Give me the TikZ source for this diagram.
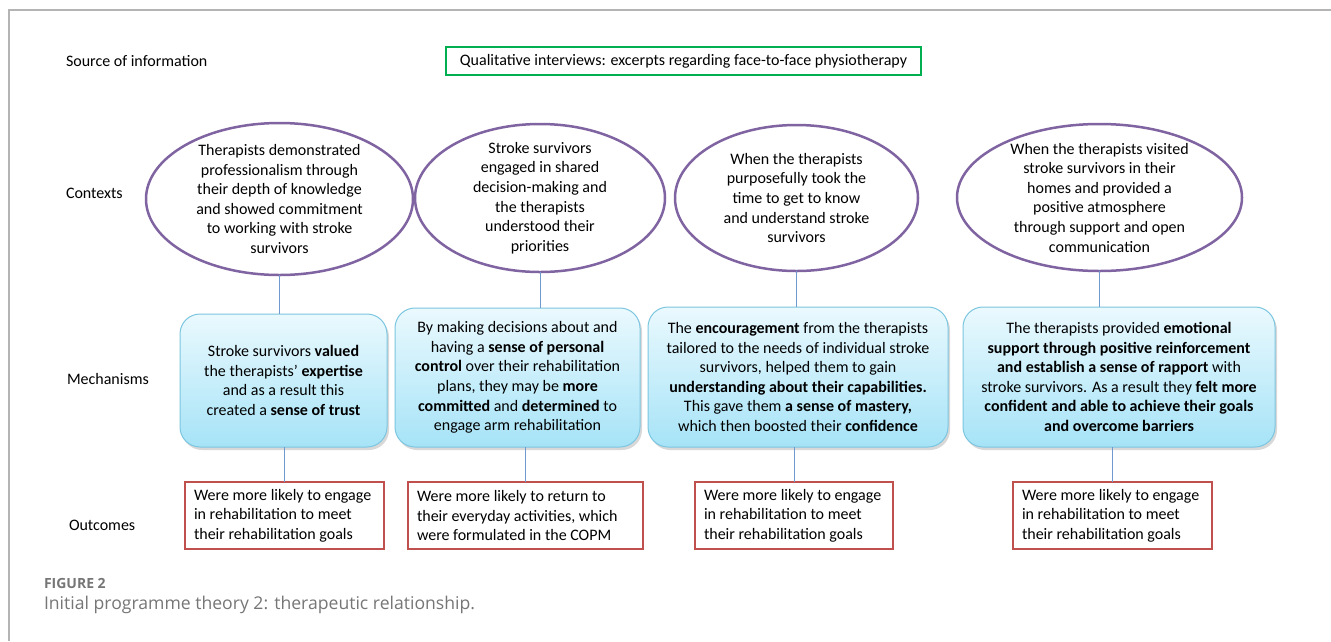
\documentclass[tikz,border=0pt]{standalone}
\usepackage{fontspec}
\setmainfont{Carlito}
\newfontfamily\capfont{Open Sans}
\usetikzlibrary{shapes.geometric,shadows}
\definecolor{ctxpurple}{HTML}{8064A2}
\definecolor{srcgreen}{HTML}{00B050}
\definecolor{outred}{HTML}{C0504D}
\definecolor{connblue}{HTML}{6F9AD0}
\definecolor{mechborder}{HTML}{7CC6E0}
\definecolor{mechtop}{HTML}{EAF9FE}
\definecolor{mechbot}{HTML}{A6E3F7}
\definecolor{framegray}{HTML}{B4B4B4}
\definecolor{capgray}{HTML}{767676}
\begin{document}
\begin{tikzpicture}[x=1pt,y=-1pt,
  every node/.style={inner sep=0pt, outer sep=0pt},
  txt/.style={font=\fontsize{16}{19.6}\selectfont, text=black},
  rowlabel/.style={txt, anchor=west},
  ctx/.style={ellipse, draw=ctxpurple, line width=2.5pt},
  ctxtext/.style={txt, align=center},
  mech/.style={txt, rectangle, rounded corners=20pt, draw=mechborder, line width=1pt,
    top color=mechtop, bottom color=mechbot, align=center,
    drop shadow={shadow xshift=2pt, shadow yshift=-3pt, opacity=0.25, fill=black!60}},
  outc/.style={rectangle, draw=outred, line width=2pt, minimum height=67pt},
  outtext/.style={txt, align=left, anchor=west},
  conn/.style={draw=connblue, line width=1pt}
]
\useasboundingbox (0,0) rectangle (1331,641);
\fill[white] (0,0) rectangle (1331,641);
\draw[framegray, line width=1.5pt] (1331,10) -- (9,10) -- (9,641);

% row labels
\node[rowlabel] (lsrc) at (66,61) {Source of information};
\node[rowlabel] (lctx) at (66,193) {Contexts};
\node[rowlabel] (lmech) at (67,379) {Mechanisms};
\node[rowlabel] (lout) at (69,525) {Outcomes};

% source
\node[txt, draw=srcgreen, line width=1.5pt, minimum width=475pt, minimum height=28pt]
  (src) at (683.5,61) {Qualitative interviews: excerpts regarding face-to-face physiotherapy};

% contexts
\node[ctx, minimum width=267pt, minimum height=152pt] (c1) at (279.5,199) {};
\node[ctxtext] (c1t) at (c1) {Therapists demonstrated\\professionalism through\\their depth of knowledge\\and showed commitment\\to working with stroke\\survivors};
\node[ctx, minimum width=250pt, minimum height=148pt] (c2) at (540,198) {};
\node[ctxtext] (c2t) at (c2) {Stroke survivors\\engaged in shared\\decision-making and\\the therapists\\understood their\\priorities};
\node[ctx, minimum width=243pt, minimum height=146pt] (c3) at (796.5,198) {};
\node[ctxtext] (c3t) at (c3) {When the therapists\\purposefully took the\\time to get to know\\and understand stroke\\survivors};
\node[ctx, minimum width=285pt, minimum height=147pt] (c4) at (1099.5,197.5) {};
\node[ctxtext] (c4t) at (c4) {When the therapists visited\\stroke survivors in their\\homes and provided a\\positive atmosphere\\through support and open\\communication};

% mechanisms
\node[mech, minimum width=207pt, minimum height=133pt] (m1) at (283.5,380.5)
  {Stroke survivors \textbf{valued}\\the therapists’ \textbf{expertise}\\and as a result this\\created a \textbf{sense of trust}};
\node[mech, minimum width=245pt, minimum height=139pt] (m2) at (517.5,377.5)
  {By making decisions about and\\having a \textbf{sense of personal}\\\textbf{control} over their rehabilitation\\plans, they may be \textbf{more}\\\textbf{committed} and \textbf{determined} to\\engage arm rehabilitation};
\node[mech, minimum width=300pt, minimum height=140pt] (m3) at (798,377)
  {The \textbf{encouragement} from the therapists\\tailored to the needs of individual stroke\\survivors, helped them to gain\\\textbf{understanding about their capabilities.}\\This gave them \textbf{a sense of mastery,}\\which then boosted their \textbf{confidence}};
\node[mech, minimum width=312pt, minimum height=140pt] (m4) at (1119,377)
  {The therapists provided \textbf{emotional}\\\textbf{support through positive reinforcement}\\\textbf{and establish a sense of rapport} with\\stroke survivors. As a result they \textbf{felt more}\\\textbf{confident and able to achieve their goals}\\\textbf{and overcome barriers}};

% outcomes
\node[outc, minimum width=199pt] (o1) at (284.5,515.5) {};
\node[outtext] (o1t) at ([xshift=9pt]o1.west)
  {Were more likely to engage\\in rehabilitation to meet\\their rehabilitation goals};
\node[outc, minimum width=235pt] (o2) at (525.5,515.5) {};
\node[outtext] (o2t) at ([xshift=9pt]o2.west)
  {Were more likely to return to\\their everyday activities, which\\were formulated in the COPM};
\node[outc, minimum width=198pt] (o3) at (794,515.5) {};
\node[outtext] (o3t) at ([xshift=9pt]o3.west)
  {Were more likely to engage\\in rehabilitation to meet\\their rehabilitation goals};
\node[outc, minimum width=199pt] (o4) at (1112.5,515.5) {};
\node[outtext] (o4t) at ([xshift=9pt]o4.west)
  {Were more likely to engage\\in rehabilitation to meet\\their rehabilitation goals};

% connectors
\foreach \i in {1,2,3,4} {
  \draw[conn] (c\i.south) -- (c\i.south |- m\i.north);
  \draw[conn] (o\i.north) -- (o\i.north |- m\i.south);
}

% caption
\node[anchor=west, font=\capfont\fontsize{14}{16}\selectfont\bfseries, text=capgray] (cap1) at (44,583) {FIGURE 2};
\node[anchor=west, font=\capfont\fontsize{17.6}{21}\selectfont, text=capgray] (cap2) at (44,605) {Initial programme theory 2: therapeutic relationship.};
\end{tikzpicture}
\end{document}
